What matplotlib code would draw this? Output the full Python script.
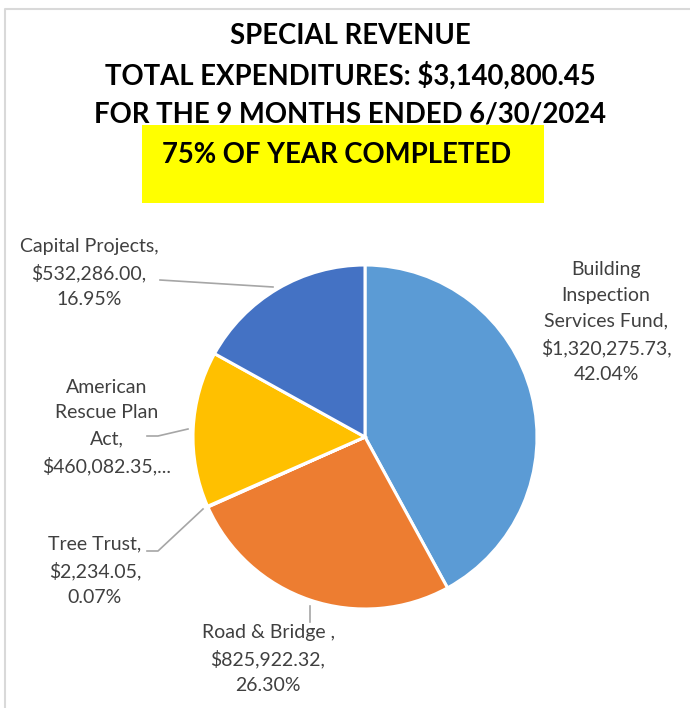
import matplotlib
matplotlib.use("Agg")
import matplotlib.pyplot as plt
from matplotlib.patches import Rectangle

# data (clockwise from 12 o'clock)
funds = ["Building\nInspection\nServices Fund", "Road & Bridge ", "Tree Trust",
         "American\nRescue Plan\nAct", "Capital Projects"]
amounts = [1320275.73, 825922.32, 2234.05, 460082.35, 532286.00]
label_text = [
    "Building\nInspection\nServices Fund,\n$1,320,275.73,\n42.04%",
    "Road & Bridge ,\n$825,922.32,\n26.30%",
    "Tree Trust,\n$2,234.05,\n0.07%",
    "American\nRescue Plan\nAct,\n$460,082.35,...",
    "Capital Projects,\n$532,286.00,\n16.95%",
]
colors = ["#5B9BD5", "#ED7D31", "#A5A5A5", "#FFC000", "#4472C4"]
title_lines = "SPECIAL REVENUE\nTOTAL EXPENDITURES: $3,140,800.45\nFOR THE 9 MONTHS ENDED 6/30/2024"
banner = "75% OF YEAR COMPLETED"

W, H = 690, 708
fig = plt.figure(figsize=(W / 100, H / 100), dpi=100)
ax = fig.add_axes([0, 0, 1, 1])
ax.set_xlim(0, W)
ax.set_ylim(0, H)
ax.axis("off")


def Y(y):
    # pixel row (top-down) to axes y
    return H - y


# chart frame
ax.plot([5, 5, W], [Y(H), Y(9), Y(9)], color="#D9D9D9", lw=1.5)

ax.pie(amounts, colors=colors, startangle=90, counterclock=False,
       center=(365, Y(437)), radius=172,
       wedgeprops=dict(edgecolor="white", linewidth=2.2))
ax.set_aspect("equal")
ax.set_xlim(0, W)
ax.set_ylim(0, H)

ax.text(350, Y(75), title_lines, ha="center", va="center", fontsize=19.8,
        fontweight="bold", family="Lato", linespacing=1.55, color="black")

ax.add_patch(Rectangle((142, Y(203)), 402, 78, facecolor="#FFFF00", edgecolor="none"))
ax.text(162, Y(155), banner, ha="left", va="center", fontsize=19.8,
        fontweight="bold", family="Lato", color="black")

label_pos = [(606, 322), (268, 659), (95, 571), (107, 427), (89, 273)]
for txt, (x, y) in zip(label_text, label_pos):
    ax.text(x, Y(y), txt, ha="center", va="center", fontsize=14,
            family="Lato", color="#404040", linespacing=1.6)

# leader lines
leaders = [
    [(160, 280), (273, 287)],
    [(147, 436), (158, 436), (188, 429)],
    [(147, 551), (158, 551), (203, 509)],
    [(310, 606), (310, 622)],
]
for pts in leaders:
    ax.plot([p[0] for p in pts], [Y(p[1]) for p in pts], color="#A6A6A6", lw=1.2)

fig.savefig("out.png", dpi=100)
